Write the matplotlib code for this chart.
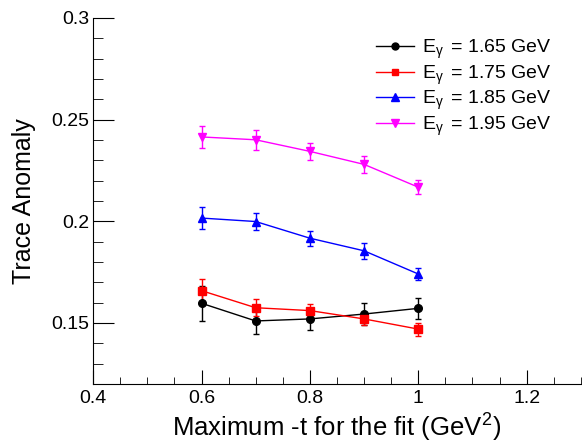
import matplotlib.pyplot as plt
from matplotlib.ticker import MultipleLocator
from matplotlib.lines import Line2D

plt.rcParams['font.family'] = ['Liberation Sans', 'DejaVu Sans']
plt.rcParams['mathtext.fontset'] = 'custom'
plt.rcParams['mathtext.rm'] = 'Liberation Sans'
plt.rcParams['mathtext.it'] = 'Liberation Sans'

# Maximum -t values used in the fit
tmax = [0.6, 0.7, 0.8, 0.9, 1.0]

# Trace anomaly per photon energy
ta_165 = [0.1597, 0.1510, 0.1520, 0.1544, 0.1572]
err_165 = [0.0086, 0.0066, 0.0054, 0.0053, 0.0051]
ta_175 = [0.1659, 0.1575, 0.1561, 0.1520, 0.1470]
err_175 = [0.0055, 0.0041, 0.0032, 0.0029, 0.0032]
ta_185 = [0.2016, 0.1999, 0.1917, 0.1855, 0.1741]
err_185 = [0.0052, 0.0043, 0.0037, 0.0038, 0.0030]
ta_195 = [0.2415, 0.2401, 0.2344, 0.2280, 0.2168]
err_195 = [0.0056, 0.0048, 0.0041, 0.0043, 0.0035]

labels = [r'E$_{\gamma}\,$ = 1.65 GeV', r'E$_{\gamma}\,$ = 1.75 GeV',
          r'E$_{\gamma}\,$ = 1.85 GeV', r'E$_{\gamma}\,$ = 1.95 GeV']

fig = plt.figure(figsize=(5.82, 4.43), dpi=100)
ax = fig.add_axes([0.160, 0.1332, 0.838, 0.8262])

series = [(ta_165, err_165, 'black', 'o', 5.5),
          (ta_175, err_175, 'red', 's', 5.5),
          (ta_185, err_185, 'blue', '^', 6),
          (ta_195, err_195, 'magenta', 'v', 6)]
handles = []
for (y, e, c, m, ms), lab in zip(series, labels):
    ax.errorbar(tmax, y, yerr=e, color=c, marker=m, markersize=ms, lw=1,
                elinewidth=1, capsize=2)
    handles.append(Line2D([], [], color=c, marker=m, markersize=ms - 0.5, lw=1, label=lab))

ax.set_xlim(0.4, 1.3)
ax.set_ylim(0.12, 0.3)
ax.xaxis.set_minor_locator(MultipleLocator(0.05))
ax.yaxis.set_minor_locator(MultipleLocator(0.01))
ax.set_xticks([0.4, 0.6, 0.8, 1.0, 1.2])
ax.set_xticklabels(['0.4', '0.6', '0.8', '1', '1.2'])
ax.set_yticks([0.15, 0.2, 0.25, 0.3])
ax.set_yticklabels(['0.15', '0.2', '0.25', '0.3'])
ax.tick_params(which='both', direction='in', labelsize=14)
ax.tick_params(axis='y', which='major', length=15, pad=3)
ax.tick_params(axis='y', which='minor', length=7)
ax.tick_params(axis='x', which='major', length=10, pad=4)
ax.tick_params(axis='x', which='minor', length=5)
ax.spines['top'].set_visible(False)
ax.spines['right'].set_visible(False)

ax.set_xlabel(r'Maximum -t for the fit (GeV$^{2}$)', fontsize=18.5, labelpad=4)
ax.set_ylabel('Trace Anomaly', fontsize=18, labelpad=11)

ax.legend(handles=handles, loc='upper right', bbox_to_anchor=(552 / 582, 1 - 38 / 443),
          bbox_transform=fig.transFigure, frameon=False, borderpad=0, borderaxespad=0,
          fontsize=14, handlelength=1.95, labelspacing=0.12, handletextpad=0.45)

plt.savefig('out.png', dpi=100)
